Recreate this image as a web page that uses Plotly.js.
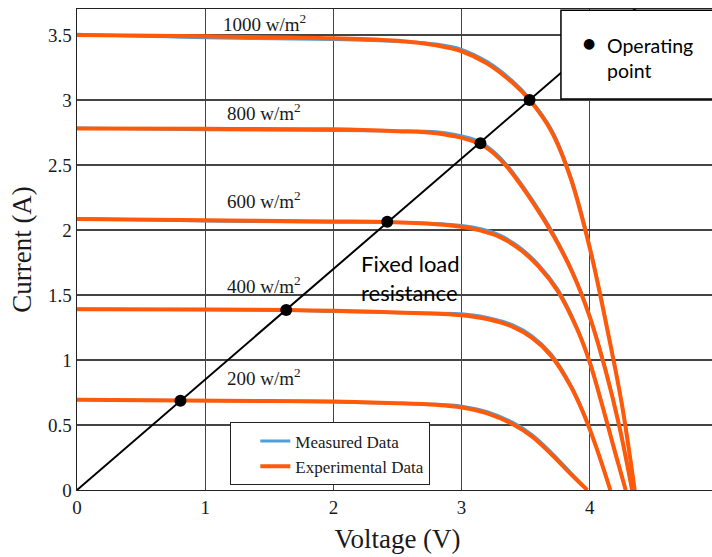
<!DOCTYPE html>
<html>
<head>
<meta charset="utf-8">
<script src="https://cdn.plot.ly/plotly-3.0.1.min.js"></script>
<style>
html,body{margin:0;padding:0;overflow:hidden;background:#fff;}
#chart{width:720px;height:557px;}
</style>
</head>
<body>
<div id="chart"></div>
<script>
// ---- data ----
const irradiance = ['1000', '800', '600', '400', '200'];

// Experimental (fitted) curves
const v1000 = [0, 1, 2, 2.5, 2.8, 3.0, 3.2, 3.4, 3.53, 3.7, 3.85, 4.0, 4.15, 4.25, 4.35];
const i1000 = [3.50, 3.49, 3.475, 3.455, 3.42, 3.375, 3.28, 3.13, 3.0, 2.76, 2.40, 1.86, 1.17, 0.66, 0];
const v800 = [0, 1, 2, 2.5, 2.8, 2.95, 3.05, 3.15, 3.25, 3.35, 3.55, 3.72, 3.87, 4.0, 4.12, 4.23, 4.33];
const i800 = [2.78, 2.778, 2.775, 2.76, 2.745, 2.72, 2.695, 2.66, 2.59, 2.49, 2.22, 1.95, 1.66, 1.33, 0.93, 0.49, 0];
const v600 = [0, 1, 2, 2.42, 2.8, 3.0, 3.15, 3.3, 3.45, 3.6, 3.75, 3.9, 4.0, 4.1, 4.2, 4.28];
const i600 = [2.085, 2.075, 2.066, 2.062, 2.045, 2.025, 1.995, 1.945, 1.855, 1.72, 1.53, 1.24, 0.98, 0.64, 0.28, 0];
const v400 = [0, 1, 1.632, 2, 2.5, 3.0, 3.2, 3.4, 3.55, 3.7, 3.85, 3.95, 4.05, 4.16];
const i400 = [1.39, 1.388, 1.385, 1.378, 1.366, 1.345, 1.315, 1.255, 1.17, 1.03, 0.80, 0.59, 0.33, 0];
const v200 = [0, 0.807, 1.5, 2, 2.5, 2.8, 3.0, 3.2, 3.4, 3.55, 3.7, 3.85, 3.98];
const i200 = [0.695, 0.688, 0.685, 0.68, 0.668, 0.655, 0.635, 0.59, 0.505, 0.41, 0.275, 0.125, 0];

// Measured data (thin blue trace mostly hidden under the orange fits)
const m1000 = [3.505, 3.478, 3.465, 3.45, 3.43, 3.39, 3.295, 3.145, 3.012, 2.775, 2.415, 1.875, 1.18, 0.665, 0];
const m800 = [2.785, 2.772, 2.766, 2.762, 2.755, 2.735, 2.712, 2.675, 2.605, 2.505, 2.235, 1.965, 1.672, 1.34, 0.94, 0.495, 0];
const m600 = [2.088, 2.07, 2.06, 2.06, 2.05, 2.035, 2.01, 1.96, 1.87, 1.735, 1.545, 1.252, 0.99, 0.645, 0.283, 0];
const m400 = [1.392, 1.386, 1.383, 1.374, 1.363, 1.355, 1.328, 1.27, 1.185, 1.045, 0.812, 0.6, 0.335, 0];
const m200 = [0.697, 0.688, 0.683, 0.676, 0.665, 0.66, 0.645, 0.603, 0.52, 0.425, 0.29, 0.135, 0];

// Fixed load resistance line and operating points
const loadV = [0, 4.4];
const loadI = [0, 3.74];
const opV = [0.807, 1.632, 2.42, 3.147, 3.53];
const opI = [0.687, 1.385, 2.064, 2.667, 3.0];

// ---- build traces ----
const BLUE = '#4f9fdc';
const ORANGE = '#ff5a0a';
const expV = [v1000, v800, v600, v400, v200];
const expI = [i1000, i800, i600, i400, i200];
const measI = [m1000, m800, m600, m400, m200];

const traces = [];
expV.forEach((v, k) => {
  traces.push({
    x: v, y: measI[k], type: 'scatter', mode: 'lines',
    line: {color: BLUE, width: 3, shape: 'spline', smoothing: 1},
    name: 'Measured Data', legendgroup: 'meas', showlegend: k === 0,
    hoverinfo: 'skip'
  });
});
expV.forEach((v, k) => {
  traces.push({
    x: v, y: expI[k], type: 'scatter', mode: 'lines',
    line: {color: ORANGE, width: 4, shape: 'spline', smoothing: 1},
    name: 'Experimental Data', legendgroup: 'exp', showlegend: k === 0,
    hoverinfo: 'skip'
  });
});
traces.push({
  x: loadV, y: loadI, type: 'scatter', mode: 'lines',
  line: {color: '#000', width: 2}, showlegend: false, name: 'Fixed load resistance'
});
traces.push({
  x: opV, y: opI, type: 'scatter', mode: 'markers',
  marker: {color: '#000', size: 12}, showlegend: false, name: 'Operating point'
});

const SERIF = 'Liberation Serif, Times New Roman, serif';
const SANS = 'Lato, Carlito, Calibri, sans-serif';

const labelY = [3.59, 2.91, 2.23, 1.58, 0.87];
const annotations = irradiance.map((g, k) => ({
  x: 1.46, y: labelY[k], xref: 'x', yref: 'y',
  text: g + ' w/m<sup>2</sup>', showarrow: false,
  font: {family: SERIF, size: 19, color: '#1a1a1a'}
}));
annotations.push({
  x: 2.2, y: 1.63, xref: 'x', yref: 'y', xanchor: 'left', yanchor: 'middle', align: 'left',
  text: 'Fixed load<br>resistance', showarrow: false,
  font: {family: SANS, size: 22, color: '#000'}
});
annotations.push({
  x: 4.12, y: 3.32, xref: 'x', yref: 'y', xanchor: 'left', yanchor: 'middle', align: 'left',
  text: 'Operating<br>point', showarrow: false,
  font: {family: SANS, size: 19.5, color: '#000'}
});
annotations.push({
  x: 3.99, y: 3.44, xref: 'x', yref: 'y', xanchor: 'center', yanchor: 'middle',
  text: '\u25CF', showarrow: false,
  font: {family: 'DejaVu Sans', size: 14, color: '#000'}
});

const layout = {
  width: 720, height: 557,
  margin: {l: 77, r: 2, t: 9, b: 67},
  paper_bgcolor: '#fff', plot_bgcolor: '#fff',
  showlegend: true,
  legend: {
    x: 0.2387, y: 0.141, xanchor: 'left', yanchor: 'top',
    bgcolor: '#fff', bordercolor: '#222', borderwidth: 1.3,
    font: {family: SERIF, size: 17, color: '#1a1a1a'},
    indentation: 24, traceorder: 'normal', tracegroupgap: 0
  },
  xaxis: {
    range: [0, 5], tickvals: [0, 1, 2, 3, 4, 5], ticktext: ['0', '1', '2', '3', '4', '5'],
    showgrid: true, gridcolor: '#444', gridwidth: 1.3,
    showline: true, linecolor: '#222', linewidth: 1.4, mirror: true,
    zeroline: false, ticks: '', ticklen: 0,
    tickfont: {family: SERIF, size: 19, color: '#1a1a1a'},
    title: {text: 'Voltage (V)', font: {family: SERIF, size: 27, color: '#1a1a1a'}, standoff: 12}
  },
  yaxis: {
    range: [0, 3.7], tickvals: [0, 0.5, 1, 1.5, 2, 2.5, 3, 3.5],
    ticktext: ['0', '0.5', '1', '1.5', '2', '2.5', '3', '3.5'],
    showgrid: true, gridcolor: '#444', gridwidth: 1.3,
    showline: true, linecolor: '#222', linewidth: 1.4, mirror: true,
    zeroline: false, ticks: '', ticklen: 0,
    tickfont: {family: SERIF, size: 19, color: '#1a1a1a'},
    title: {text: 'Current (A)', font: {family: SERIF, size: 27, color: '#1a1a1a'}, standoff: 8}
  },
  shapes: [{
    type: 'rect', xref: 'x', yref: 'y', x0: 3.775, x1: 5.2, y0: 3.008, y1: 3.69,
    line: {color: '#000', width: 1.5}, fillcolor: '#fff', layer: 'above'
  }],
  annotations: annotations
};

Plotly.newPlot('chart', traces, layout, {displayModeBar: false, staticPlot: true});
</script>
</body>
</html>
